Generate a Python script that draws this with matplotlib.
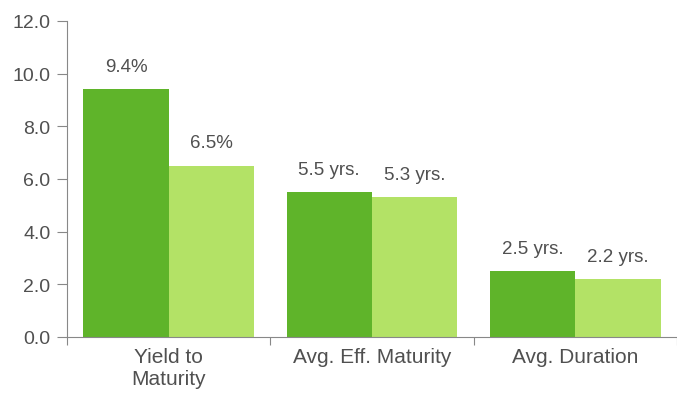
import numpy as np
import matplotlib.pyplot as plt

plt.rcParams['font.family'] = ['Liberation Sans', 'DejaVu Sans']

categories = ['Yield to\nMaturity', 'Avg. Eff. Maturity', 'Avg. Duration']
series_a = [9.4, 5.5, 2.5]
series_b = [6.5, 5.3, 2.2]
labels_a = ['9.4%', '5.5 yrs.', '2.5 yrs.']
labels_b = ['6.5%', '5.3 yrs.', '2.2 yrs.']

dark = '#5fb42a'
light = '#b3e266'
grey = '#505050'

fig = plt.figure(figsize=(6.77, 4.02), dpi=100)
ax = fig.add_axes([67/677, 1-338/402, 610/677, (338-22)/402])

x = np.arange(len(categories)) + 0.5
w = 0.42
ax.bar(x - w/2, series_a, width=w, color=dark)
ax.bar(x + w/2, series_b, width=w, color=light)

for i in range(len(x)):
    ax.text(x[i] - w/2, series_a[i] + 0.55, labels_a[i], ha='center', va='bottom',
            fontsize=13.5, color=grey)
    ax.text(x[i] + w/2, series_b[i] + 0.55, labels_b[i], ha='center', va='bottom',
            fontsize=13.5, color=grey)

ax.set_xlim(0, 3)
ax.set_ylim(0, 12)
ax.set_yticks(np.arange(0, 12.1, 2))
ax.set_yticklabels(['%.1f' % v for v in np.arange(0, 12.1, 2)])
ax.set_xticks([0, 1, 2, 3])
ax.set_xticklabels([])
ax.set_xticks(x, minor=True)
ax.set_xticklabels(categories, minor=True)
ax.tick_params(axis='x', which='minor', length=0, pad=7, labelsize=15, labelcolor=grey)
ax.tick_params(axis='x', which='major', length=6, color='#888888', direction='out')
ax.tick_params(axis='y', length=7, color='#888888', labelsize=14, labelcolor=grey, pad=5)

for s in ['top', 'right']:
    ax.spines[s].set_visible(False)
for s in ['left', 'bottom']:
    ax.spines[s].set_color('#888888')

plt.savefig('out.png', dpi=100)
